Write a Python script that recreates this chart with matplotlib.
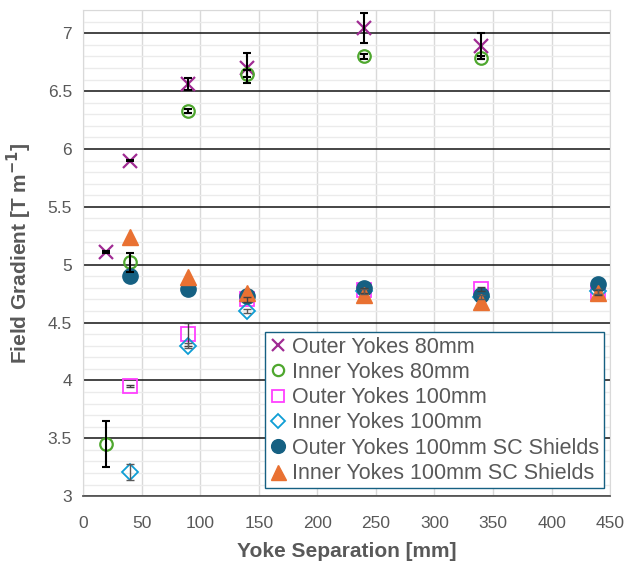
import matplotlib
matplotlib.use("Agg")
import matplotlib.pyplot as plt
from matplotlib.ticker import MultipleLocator

plt.rcParams['font.family'] = ['Liberation Sans', 'DejaVu Sans']

# ---- data ----
x_o80 = [20, 40, 90, 140, 240, 340]
y_o80 = [5.11, 5.90, 6.56, 6.70, 7.05, 6.89]
e_o80 = [0.005, 0.005, 0.05, 0.13, 0.13, 0.11]

x_i80 = [20, 40, 90, 140, 240, 340]
y_i80 = [3.45, 5.02, 6.33, 6.65, 6.80, 6.79]
e_i80 = [0.20, 0.08, 0.02, 0.03, 0.02, 0.01]

x_o100 = [40, 90, 140, 240, 340, 440]
y_o100 = [3.95, 4.40, 4.70, 4.78, 4.79, 4.76]
e_o100 = [0.01, 0.10, 0.02, 0.02, 0.02, 0.02]

x_i100 = [40, 90, 140, 240, 340, 440]
y_i100 = [3.21, 4.30, 4.60, 4.77, 4.72, 4.77]
e_i100 = [0.07, 0.02, 0.02, 0.02, 0.02, 0.02]

x_osc = [40, 90, 140, 240, 340, 440]
y_osc = [4.90, 4.79, 4.73, 4.80, 4.74, 4.83]

x_isc = [40, 90, 140, 240, 340, 440]
y_isc = [5.24, 4.89, 4.76, 4.74, 4.68, 4.76]

labels = ["Outer Yokes 80mm", "Inner Yokes 80mm", "Outer Yokes 100mm",
          "Inner Yokes 100mm", "Outer Yokes 100mm SC Shields",
          "Inner Yokes 100mm SC Shields"]

x_ticks = [0, 50, 100, 150, 200, 250, 300, 350, 400, 450]
y_ticks = [3, 3.5, 4, 4.5, 5, 5.5, 6, 6.5, 7]

fig = plt.figure(figsize=(6.29, 5.67), dpi=100)
ax = fig.add_axes([0.132, 0.125, 0.838, 0.857])

ms = 10
ax.plot(x_o80, y_o80, linestyle='none', marker='x', ms=ms, mew=1.6,
        color='#A02B93', label=labels[0], zorder=3)
ax.plot(x_i80, y_i80, linestyle='none', marker='o', ms=ms - 1, mew=1.6,
        mfc='none', mec='#4EA72E', label=labels[1], zorder=3)
ax.plot(x_o100, y_o100, linestyle='none', marker='s', ms=ms, mew=1.3,
        mfc='none', mec='#FF40FF', label=labels[2], zorder=3)
ax.plot(x_i100, y_i100, linestyle='none', marker='D', ms=ms - 2, mew=1.3,
        mfc='none', mec='#0F9ED5', label=labels[3], zorder=3)
ax.plot(x_osc, y_osc, linestyle='none', marker='o', ms=ms + 1,
        color='#156082', label=labels[4], zorder=3)
ax.plot(x_isc, y_isc, linestyle='none', marker='^', ms=ms + 2,
        color='#E97132', label=labels[5], zorder=3)

ax.errorbar(x_o80, y_o80, yerr=e_o80, fmt='none', ecolor='black',
            elinewidth=1.5, capsize=3, capthick=1.5, zorder=4)
ax.errorbar(x_i80, y_i80, yerr=e_i80, fmt='none', ecolor='black',
            elinewidth=1.5, capsize=3, capthick=1.5, zorder=4)
ax.errorbar(x_o100, y_o100, yerr=e_o100, fmt='none', ecolor='#404040',
            elinewidth=1.0, capsize=3, capthick=1.0, zorder=4)
ax.errorbar(x_i100, y_i100, yerr=e_i100, fmt='none', ecolor='#595959',
            elinewidth=1.0, capsize=3, capthick=1.0, zorder=4)

ax.set_xlim(0, 450)
ax.set_ylim(3, 7.2)
ax.set_xticks(x_ticks)
ax.set_yticks(y_ticks)
ax.set_xticklabels([str(v) for v in x_ticks])
ax.set_yticklabels([f"{v:g}" for v in y_ticks])
ax.yaxis.set_minor_locator(MultipleLocator(0.1))

ax.grid(axis='x', which='major', color='#D9D9D9', linewidth=1.0)
ax.grid(axis='y', which='minor', color='#EBEBEB', linewidth=1.0)
ax.grid(axis='y', which='major', color='#262626', linewidth=1.2)
ax.set_axisbelow(True)

for s in ['left', 'top', 'right']:
    ax.spines[s].set_color('#D9D9D9')
ax.spines['bottom'].set_color('#595959')
ax.spines['bottom'].set_linewidth(1.3)

ax.tick_params(which='both', length=0, colors='#595959', labelsize=12.5, pad=8)
ax.tick_params(axis='x', pad=14)

ax.set_xlabel("Yoke Separation [mm]", fontsize=15, fontweight='bold',
              color='#595959', labelpad=8)
ax.set_ylabel(r"Field Gradient [T m$^{\mathbf{-1}}$]", fontsize=15,
              fontweight='bold', color='#595959', labelpad=10)

leg = ax.legend(loc='lower right', bbox_to_anchor=(0.988, 0.016), fontsize=15.5,
                frameon=True, fancybox=False, handlelength=0.8,
                handletextpad=0.25, borderpad=0.2, labelspacing=0.2,
                borderaxespad=0.0, markerscale=0.9)
leg.get_frame().set_edgecolor('#156082')
leg.get_frame().set_linewidth(1.0)
leg.get_frame().set_alpha(1)
for t in leg.get_texts():
    t.set_color('#595959')

fig.savefig("out.png", dpi=100)
